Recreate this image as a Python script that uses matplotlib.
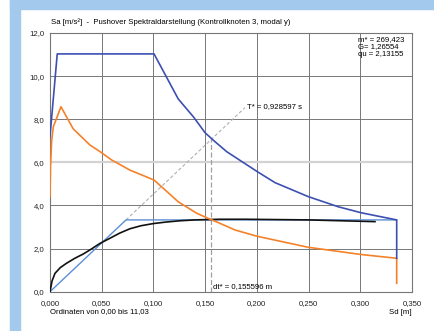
import matplotlib
matplotlib.use('Agg')
import matplotlib.pyplot as plt
from matplotlib.patches import Rectangle
import numpy as np

# spectrum (dark blue)
blue_sd = [0, 0.007, 0.1006, 0.124, 0.139, 0.15, 0.1595, 0.171, 0.2004, 0.2175,
           0.2497, 0.2787, 0.301, 0.3352, 0.3352]
blue_sa = [7.2, 11.03, 11.03, 8.94, 8.09, 7.37, 6.96, 6.49, 5.57, 5.06,
           4.41, 3.94, 3.66, 3.33, 1.55]

# reduced spectrum (orange)
orange_sd = [0, 0.0005, 0.0016, 0.0032, 0.0106, 0.0225, 0.0387, 0.0483, 0.0596,
             0.0773, 0.1006, 0.124, 0.1418, 0.153, 0.1644, 0.179, 0.2004,
             0.2497, 0.300, 0.3352, 0.3352]
orange_sa = [4.4, 5.8, 7.0, 7.65, 8.58, 7.55, 6.8, 6.5, 6.11,
             5.64, 5.18, 4.17, 3.64, 3.4, 3.17, 2.86, 2.57,
             2.06, 1.73, 1.55, 0.39]

# capacity curve (black)
black_sd = [0, 0.002, 0.0048, 0.01, 0.016, 0.024, 0.0322, 0.04, 0.0483, 0.058,
            0.0675, 0.0773, 0.088, 0.0999, 0.112, 0.1257, 0.14, 0.1644, 0.1885,
            0.2497, 0.3142]
black_sa = [0, 0.5, 0.85, 1.12, 1.32, 1.55, 1.75, 1.98, 2.24, 2.48,
            2.72, 2.92, 3.06, 3.16, 3.23, 3.29, 3.33, 3.36, 3.36,
            3.33, 3.25]

# bilinear idealisation (light blue)
bilin_sd = [0, 0.0735, 0.3352]
bilin_sa = [0, 3.33, 3.33]

# T* line and dt* marker
tline_sd = [0.0735, 0.1885]
tline_sa = [3.33, 8.54]
dt_star = 0.155596
dt_sa = 7.1

xticks = np.arange(0, 0.351, 0.05)
yticks = np.arange(0, 12.1, 2)

plt.rcParams['font.family'] = ['Liberation Sans', 'DejaVu Sans']
FS = 5.6

fig = plt.figure(figsize=(4.35, 3.31), dpi=100)
W, H = 435.0, 331.0
fig.patches.append(Rectangle((10 / W, 1 - 9 / H), 1, 9 / H, transform=fig.transFigure,
                             color='#a3c9ec', zorder=0))
fig.patches.append(Rectangle((10 / W, 0), 10 / W, 1, transform=fig.transFigure,
                             color='#a3c9ec', zorder=0))

ax = fig.add_axes([50 / W, 1 - 291.7 / H, 362 / W, 258.7 / H])
ax.set_xlim(0, 0.35)
ax.set_ylim(0, 12)
ax.set_xticks(xticks)
ax.set_yticks(yticks)
ax.set_xticklabels([('%.3f' % v).replace('.', ',') for v in xticks])
ax.set_yticklabels([('%.1f' % v).replace('.', ',') for v in yticks])
ax.tick_params(length=0, labelsize=FS, colors='#222222')
ax.tick_params(axis='x', pad=6)
ax.tick_params(axis='y', pad=4)
for s in ax.spines.values():
    s.set_color('#777777')
    s.set_linewidth(0.8)

for v in xticks[1:-1]:
    ax.axvline(v, color='#777777', lw=0.7, zorder=1)
for v in yticks[1:-1]:
    if v == 6:
        ax.axhline(v, color='#d2d2d2', lw=1.6, zorder=1)
    else:
        ax.axhline(v, color='#777777', lw=0.7, zorder=1)

ax.plot(tline_sd, tline_sa, color='#b0b0b0', lw=0.8, ls=(0, (3, 2)), zorder=2)
ax.plot([dt_star, dt_star], [0, dt_sa], color='#a0a0a0', lw=0.9, ls=(0, (4, 2)), zorder=2)
ax.plot(bilin_sd, bilin_sa, color='#5b8fd6', lw=1.0, zorder=3)
ax.plot(black_sd, black_sa, color='#111111', lw=1.2, zorder=4)
ax.plot(orange_sd, orange_sa, color='#f5822a', lw=1.2, zorder=4)
ax.plot(blue_sd, blue_sa, color='#3c50b2', lw=1.2, zorder=5)

ax.text(0.19, 8.58, 'T* = 0,928597 s', fontsize=FS, va='center', ha='left')
ax.text(dt_star + 0.002, 0.25, 'dt* = 0,155596 m', fontsize=FS, va='center', ha='left')
ax.text(0.298, 11.85, 'm* = 269,423\nG= 1,26554\nqu = 2,13155', fontsize=FS,
        va='top', ha='left', linespacing=1.05)

fig.text(51 / W, 1 - 22 / H, 'Sa [m/s²]  -  Pushover Spektraldarstellung (Kontrollknoten 3, modal y)',
         fontsize=FS, va='center', ha='left')
fig.text(50 / W, 1 - 312 / H, 'Ordinaten von 0,00 bis 11,03', fontsize=FS, va='center', ha='left')
fig.text(412 / W, 1 - 312 / H, 'Sd [m]', fontsize=FS, va='center', ha='right')

fig.savefig('out.png', dpi=100)
